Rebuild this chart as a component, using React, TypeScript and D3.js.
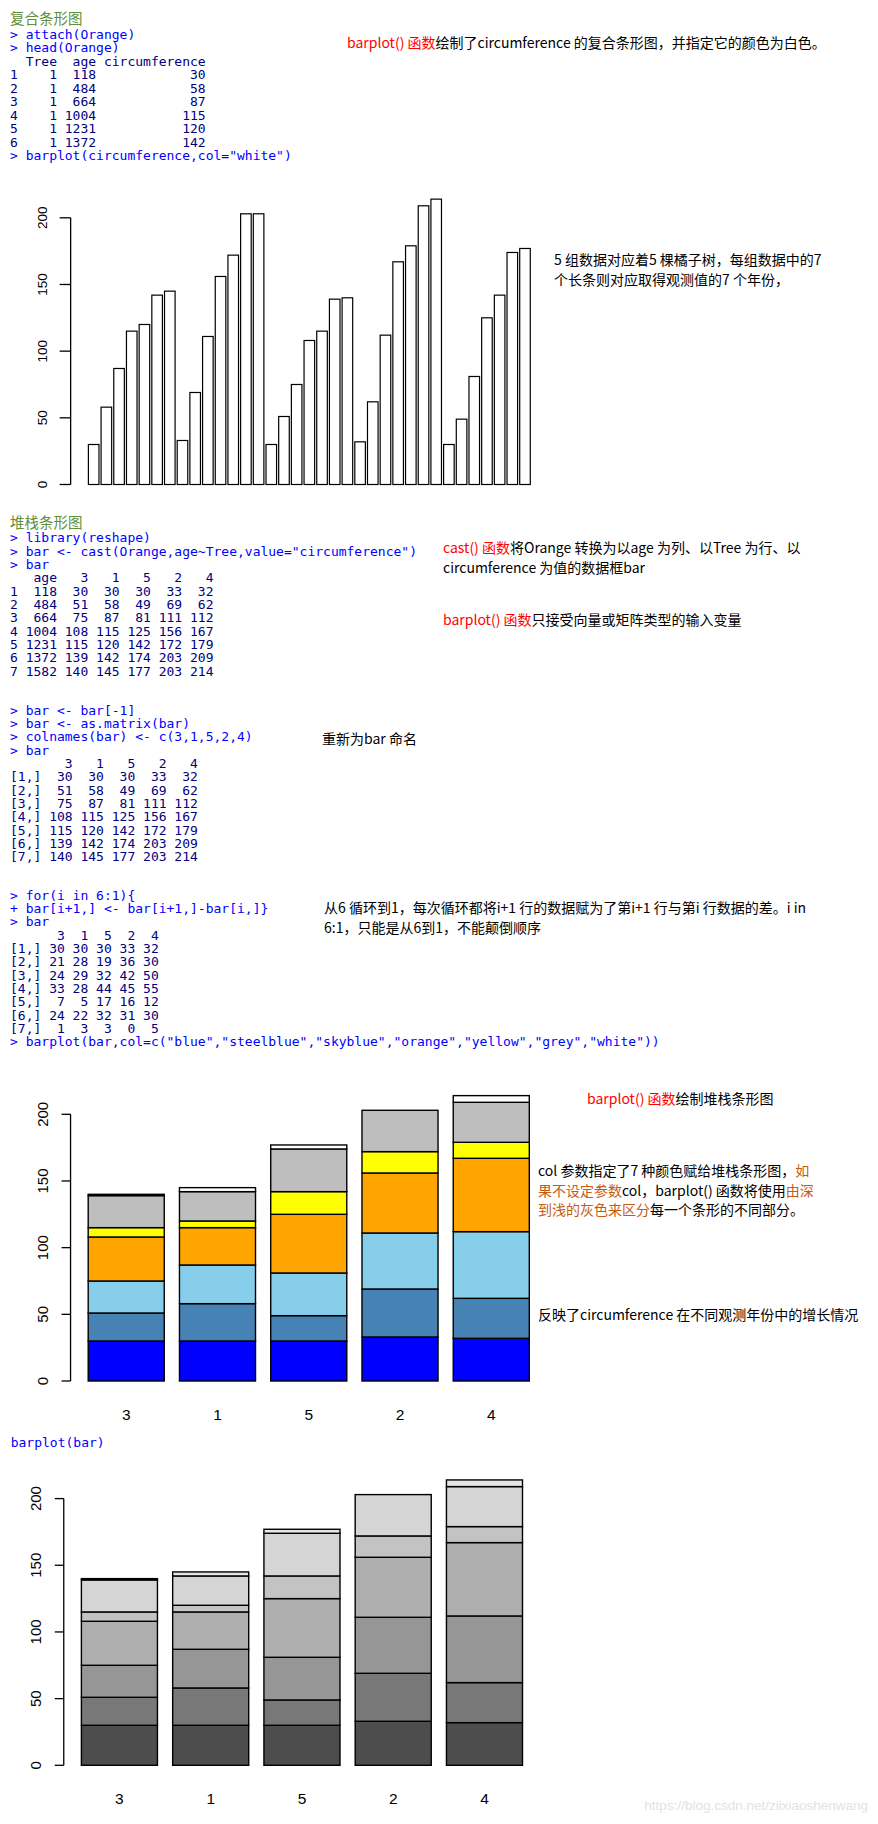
import React from "react";
import * as d3 from "d3";

// ---------------- data ----------------
const ages = [118, 484, 664, 1004, 1231, 1372, 1582];
const tree1 = [30, 58, 87, 115, 120, 142, 145];
const tree2 = [33, 69, 111, 156, 172, 203, 203];
const tree3 = [30, 51, 75, 108, 115, 139, 140];
const tree4 = [32, 62, 112, 167, 179, 209, 214];
const tree5 = [30, 49, 81, 125, 142, 174, 177];
const stackTrees = ["3", "1", "5", "2", "4"];
const cumByTree: Record<string, number[]> = { "1": tree1, "2": tree2, "3": tree3, "4": tree4, "5": tree5 };
const yTicks = [0, 50, 100, 150, 200];
const stackColors = ["blue", "steelblue", "skyblue", "orange", "yellow", "#BEBEBE", "white"];
const grayColors = ["#4D4D4D", "#787878", "#969696", "#AEAEAE", "#C3C3C3", "#D5D5D5", "#E6E6E6"];

// chart 1: all circumferences, tree 1..5
const allCirc = [...tree1, ...tree2, ...tree3, ...tree4, ...tree5];
// cumulative matrix (rows = age index, cols = stackTrees)
const cumMatrix = ages.map((_, r) => stackTrees.map((t) => cumByTree[t][r]));
// differences (what the R loop computes)
const diffMatrix = cumMatrix.map((row, r) => row.map((v, c) => (r === 0 ? v : v - cumMatrix[r - 1][c])));

// ---------------- styles ----------------
const MONO = "'DejaVu Sans Mono', monospace";
const CJK = "'Noto Sans CJK SC', 'Noto Sans CJK JP', sans-serif";
const SANS = "'Liberation Sans', Arial, sans-serif";
const CMD = "#0000ff";
const OUT = "#000080";
const RED = "#ff0000";
const BROWN = "#c55a11";
const GREEN = "#5f8f3a";

type Line = { t: string; c: string };

const pad = (v: number | string, n: number) => String(v).padStart(n, " ");

const sec1: Line[] = [
  { t: "> attach(Orange)", c: CMD },
  { t: "> head(Orange)", c: CMD },
  { t: "  Tree  age circumference", c: OUT },
  ...tree1.slice(0, 6).map((v, i) => ({ t: `${i + 1}    1${pad(ages[i], 5)}${pad(v, 14)}`, c: OUT })),
  { t: '> barplot(circumference,col="white")', c: CMD },
];

const sec2: Line[] = [
  { t: "> library(reshape)", c: CMD },
  { t: '> bar <- cast(Orange,age~Tree,value="circumference")', c: CMD },
  { t: "> bar", c: CMD },
  { t: "   age" + stackTrees.map((t) => pad(t, 4)).join(""), c: OUT },
  ...cumMatrix.map((row, r) => ({ t: `${r + 1}${pad(ages[r], 5)}` + row.map((v) => pad(v, 4)).join(""), c: OUT })),
];

const sec2b: Line[] = [
  { t: "> bar <- bar[-1]", c: CMD },
  { t: "> bar <- as.matrix(bar)", c: CMD },
  { t: "> colnames(bar) <- c(3,1,5,2,4)", c: CMD },
  { t: "> bar", c: CMD },
  { t: "    " + stackTrees.map((t) => pad(t, 4)).join(""), c: OUT },
  ...cumMatrix.map((row, r) => ({ t: `[${r + 1},]` + row.map((v) => pad(v, 4)).join(""), c: OUT })),
];

const sec3: Line[] = [
  { t: "> for(i in 6:1){", c: CMD },
  { t: "+ bar[i+1,] <- bar[i+1,]-bar[i,]}", c: CMD },
  { t: "> bar", c: CMD },
  { t: "    " + stackTrees.map((t) => pad(t, 3)).join(""), c: OUT },
  ...diffMatrix.map((row, r) => ({ t: `[${r + 1},]` + row.map((v) => pad(v, 3)).join(""), c: OUT })),
  { t: '> barplot(bar,col=c("blue","steelblue","skyblue","orange","yellow","grey","white"))', c: CMD },
];

function CodeBlock({ lines, x, y0, step }: { lines: Line[]; x: number; y0: number; step: number }) {
  return (
    <g fontFamily={MONO} fontSize={13}>
      {lines.map((l, i) => (
        <text key={i} x={x} y={y0 + i * step + 4.6} fill={l.c} xmlSpace="preserve" style={{ whiteSpace: "pre" }}>
          {l.t}
        </text>
      ))}
    </g>
  );
}

type Seg = { t: string; c?: string };
function Note({ x, y, segs, size = 14 }: { x: number; y: number; segs: Seg[]; size?: number }) {
  return (
    <text x={x} y={y + size * 0.38} fontFamily={CJK} fontSize={size} fill="#000" xmlSpace="preserve" style={{ whiteSpace: "pre" }}>
      {segs.map((s, i) => (
        <tspan key={i} fill={s.c || "#000"}>
          {s.t}
        </tspan>
      ))}
    </text>
  );
}

function YAxis({ xAxis, y, labelX, fs, tick }: { xAxis: number; y: d3.ScaleLinear<number, number>; labelX: number; fs: number; tick: number }) {
  return (
    <g>
      <line x1={xAxis} x2={xAxis} y1={y(yTicks[0])} y2={y(yTicks[yTicks.length - 1])} stroke="#000" strokeWidth={1.3} />
      {yTicks.map((v) => (
        <g key={v}>
          <line x1={xAxis - tick} x2={xAxis} y1={y(v)} y2={y(v)} stroke="#000" strokeWidth={1.3} />
          <text
            transform={`translate(${labelX + fs * 0.36},${y(v)}) rotate(-90)`}
            textAnchor="middle"
            fontFamily={SANS}
            fontSize={fs}
            fill="#000"
          >
            {v}
          </text>
        </g>
      ))}
    </g>
  );
}

function Chart1() {
  const x = d3.scaleLinear().domain([0.2, 42.2]).range([88.4, 532.4]);
  const y = d3.scaleLinear().domain([0, 200]).range([484.5, 217.8]);
  return (
    <g>
      <YAxis xAxis={x(0.2 - 0.04 * 42)} y={y} labelX={42} fs={13.5} tick={11} />
      {allCirc.map((v, i) => {
        const l = 0.2 + i * 1.2;
        return (
          <rect
            key={i}
            x={x(l)}
            y={y(v)}
            width={x(l + 1) - x(l)}
            height={y(0) - y(v)}
            fill="white"
            stroke="#000"
            strokeWidth={1.2}
          />
        );
      })}
    </g>
  );
}

function StackChart({ xr, y0, colors, axisLabelX }: { xr: [number, number]; y0: number; colors: string[]; axisLabelX: number }) {
  const x = d3.scaleLinear().domain([0.2, 6.0]).range(xr);
  const y = d3.scaleLinear().domain([0, 200]).range([y0, y0 - 266.7]);
  const stack = d3.stack<number[]>().keys(ages.map((_, r) => String(r))).value((d, k) => d[+k]);
  const cols = stackTrees.map((_, c) => diffMatrix.map((row) => row[c]));
  const series = stack(cols);
  return (
    <g>
      <YAxis xAxis={x(0.2 - 0.04 * 5.8)} y={y} labelX={axisLabelX} fs={15} tick={9} />
      {series.map((s, r) =>
        s.map((d, c) => {
          const l = 0.2 + c * 1.2;
          return (
            <rect
              key={`${r}-${c}`}
              x={x(l)}
              y={y(d[1])}
              width={x(l + 1) - x(l)}
              height={y(d[0]) - y(d[1])}
              fill={colors[r]}
              stroke="#000"
              strokeWidth={1.4}
            />
          );
        })
      )}
      {stackTrees.map((t, c) => (
        <text key={t} x={x(0.7 + c * 1.2)} y={y0 + 33 + 5.5} textAnchor="middle" fontFamily={SANS} fontSize={15.5} fill="#000">
          {t}
        </text>
      ))}
    </g>
  );
}

export default function App() {
  return (
    <svg width={878} height={1824} style={{ position: "absolute", left: 0, top: 0, background: "#fff" }}>
      <rect width={878} height={1824} fill="#fff" />
      {/* section 1 */}
      <text x={10} y={18.3 + 5.5} fontFamily={CJK} fontSize={14.5} fill={GREEN}>
        复合条形图
      </text>
      <CodeBlock lines={sec1} x={10} y0={34.3} step={13.45} />
      <Note
        x={347}
        y={43}
        segs={[{ t: "barplot() 函数", c: RED }, { t: "绘制了circumference 的复合条形图，并指定它的颜色为白色。" }]}
      />
      <Chart1 />
      <Note x={554} y={260} segs={[{ t: "5 组数据对应着5 棵橘子树，每组数据中的7" }]} />
      <Note x={554} y={279.5} segs={[{ t: "个长条则对应取得观测值的7 个年份，" }]} />

      {/* section 2 */}
      <text x={10} y={522.7 + 5.5} fontFamily={CJK} fontSize={14.5} fill={GREEN}>
        堆栈条形图
      </text>
      <CodeBlock lines={sec2} x={10} y0={537.7} step={13.35} />
      <Note
        x={443}
        y={547.3}
        segs={[{ t: "cast() 函数", c: RED }, { t: "将Orange 转换为以age 为列、以Tree 为行、以" }]}
      />
      <Note x={443} y={567.3} segs={[{ t: "circumference 为值的数据框bar" }]} />
      <Note x={443} y={620} segs={[{ t: "barplot() 函数", c: RED }, { t: "只接受向量或矩阵类型的输入变量" }]} />

      <CodeBlock lines={sec2b} x={10} y0={710} step={13.35} />
      <Note x={322} y={739} segs={[{ t: "重新为bar 命名" }]} />

      <CodeBlock lines={sec3} x={10} y0={895} step={13.35} />
      <Note x={324} y={907.3} segs={[{ t: "从6 循环到1，每次循环都将i+1 行的数据赋为了第i+1 行与第i 行数据的差。i in" }]} />
      <Note x={324} y={927.7} segs={[{ t: "6:1，只能是从6到1，不能颠倒顺序" }]} />

      <StackChart xr={[88.2, 529.3]} y0={1381} colors={stackColors} axisLabelX={43} />
      <Note x={587} y={1099} segs={[{ t: "barplot() 函数", c: RED }, { t: "绘制堆栈条形图" }]} />
      <Note x={538} y={1171} segs={[{ t: "col 参数指定了7 种颜色赋给堆栈条形图，" }, { t: "如", c: BROWN }]} />
      <Note
        x={538}
        y={1190.5}
        segs={[{ t: "果不设定参数", c: BROWN }, { t: "col，barplot() 函数将使用" }, { t: "由深", c: BROWN }]}
      />
      <Note x={538} y={1210} segs={[{ t: "到浅的灰色来区分", c: BROWN }, { t: "每一个条形的不同部分。" }]} />
      <Note x={538} y={1315} segs={[{ t: "反映了circumference 在不同观测年份中的增长情况" }]} />

      {/* section 3 */}
      <CodeBlock lines={[{ t: "barplot(bar)", c: CMD }]} x={10.7} y0={1442.7} step={13.35} />
      <StackChart xr={[81.4, 522.5]} y0={1765.3} colors={grayColors} axisLabelX={35.7} />

      <text x={868} y={1805 + 4.7} textAnchor="end" fontFamily={SANS} fontSize={13.5} fill="#e2e2e2">
        https://blog.csdn.net/ziixiaoshenwang
      </text>
    </svg>
  );
}
